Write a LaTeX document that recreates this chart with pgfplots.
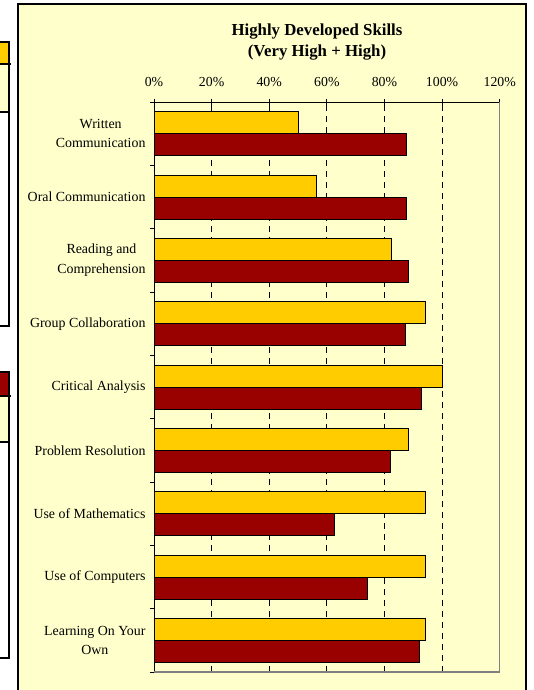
\documentclass[border=0pt]{standalone}
\usepackage{fontspec}
\setmainfont{Liberation Serif}
\usepackage{pgfplots}
\pgfplotsset{compat=1.18}
\definecolor{bgyel}{HTML}{FFFFCC}
\definecolor{baryel}{HTML}{FFCC00}
\definecolor{barred}{HTML}{990000}
\begin{document}
\begin{tikzpicture}
\begin{scope}[x=1pt,y=1pt]
\useasboundingbox (0,0) rectangle (533,-690);
\clip (0,0) rectangle (533,-690);
\fill[white] (0,0) rectangle (533,-690);
% partial boxes at the left edge
\fill[baryel] (-5,-42) rectangle (8.5,-64);
\fill[bgyel] (-5,-64) rectangle (8.5,-112);
\draw[line width=2pt] (-5,-42) -- (8.5,-42) -- (8.5,-326) -- (-5,-326);
\draw[line width=2pt] (-5,-64) -- (10.5,-64);
\draw[line width=2pt] (-5,-112) -- (8.5,-112);
\fill[barred] (-5,-372) rectangle (8.5,-396);
\fill[bgyel] (-5,-396) rectangle (8.5,-442);
\draw[line width=2pt] (-5,-372) -- (8.5,-372) -- (8.5,-658) -- (-5,-658);
\draw[line width=2pt] (-5,-396) -- (10.5,-396);
\draw[line width=2pt] (-5,-442) -- (8.5,-442);
% main frame
\draw[line width=1.8pt, fill=bgyel] (18,-4) rectangle (526,-700);
\node[font=\bfseries\fontsize{16.8}{21}\selectfont, align=center] at (317,-42) {Highly Developed Skills\\(Very High + High)};
\end{scope}
\begin{axis}[
  at={(154pt,-102pt)}, anchor=north west,
  width=345.7pt, height=570pt, scale only axis,
  xmin=0, xmax=120, ymin=-0.5, ymax=8.5,
  xbar, bar width=0.345,
  axis x line*=top, axis y line*=left,
  axis line style={black, line width=0.8pt},
  xtick={0,20,...,120},
  xticklabels={0\%,20\%,40\%,60\%,80\%,100\%,120\%},
  xtick align=center,
  major tick length=6pt,
  major x tick style={black, line width=0.8pt},
  xticklabel style={font=\fontsize{13.8}{15}\selectfont, yshift=8.5pt},
  xmajorgrids,
  major grid style={black, dash pattern=on 6pt off 5pt, line width=0.8pt},
  ytick={0,...,8},
  yticklabels={Learning On Your\\Own, Use of Computers, Use of Mathematics, Problem Resolution, Critical Analysis, Group Collaboration, Reading and\\Comprehension, Oral Communication, Written\\Communication},
  yticklabel style={font=\fontsize{13.9}{19.5}\selectfont, align=center, xshift=1pt},
  major y tick style={draw=none},
  minor ytick={-0.5,0.5,...,8.5},
  ytick align=outside,
  minor tick length=4pt,
  minor y tick style={black, line width=0.8pt},
  clip=false,
]
\addplot[fill=baryel, draw=black, line width=1pt, bar shift=0.172] coordinates {
  (94.2,0) (94.2,1) (94.1,2) (88.3,3) (100,4) (94.1,5) (82.3,6) (56.3,7) (50,8)};
\addplot[fill=barred, draw=black, line width=1pt, bar shift=-0.177] coordinates {
  (92,0) (74,1) (62.8,2) (82,3) (93,4) (87.2,5) (88.5,6) (87.8,7) (87.7,8)};
\draw[gray, line width=1.5pt] (axis cs:120,8.5) -- (axis cs:120,-0.5) -- (axis cs:0,-0.5);
\end{axis}
\end{tikzpicture}
\end{document}
